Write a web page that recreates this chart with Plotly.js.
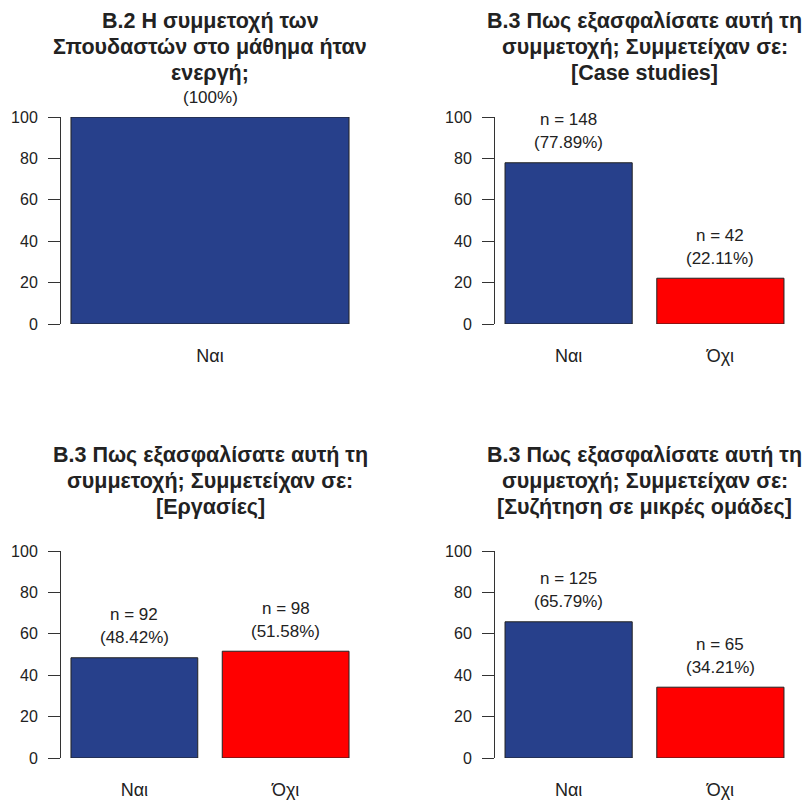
<!DOCTYPE html>
<html>
<head>
<meta charset="utf-8">
<script src="https://cdn.plot.ly/plotly-3.0.1.min.js"></script>
<style>html,body{margin:0;padding:0;background:#fff;}#chart{width:805px;height:803px;}</style>
</head>
<body>
<div id="chart"></div>
<script>
// ---- data ----
const title1 = ["Β.2 Η συμμετοχή των", "Σπουδαστών στο μάθημα ήταν", "ενεργή;"];
const title2 = ["Β.3 Πως εξασφαλίσατε αυτή τη", "συμμετοχή; Συμμετείχαν σε:", "[Case studies]"];
const title3 = ["Β.3 Πως εξασφαλίσατε αυτή τη", "συμμετοχή; Συμμετείχαν σε:", "[Εργασίες]"];
const title4 = ["Β.3 Πως εξασφαλίσατε αυτή τη", "συμμετοχή; Συμμετείχαν σε:", "[Συζήτηση σε μικρές ομάδες]"];
const cats1 = ["Ναι"];
const pct1 = [100];
const cats2 = ["Ναι", "Όχι"];
const n2 = [148, 42];
const pct2 = [77.89, 22.11];
const cats3 = ["Ναι", "Όχι"];
const n3 = [92, 98];
const pct3 = [48.42, 51.58];
const cats4 = ["Ναι", "Όχι"];
const n4 = [125, 65];
const pct4 = [65.79, 34.21];
const yTicks = [0, 20, 40, 60, 80, 100];

// ---- style ----
const FONT = "Liberation Sans, Arial, sans-serif";
const TXT = "#222";
const BLUE = "#27408B";
const RED = "#FF0000";
const W = 805, H = 803;

const panels = [
  {title: title1, cats: cats1, pct: pct1, n: null, xd: [61, 359], yd: [117, 324], range: [-0.5, 0.5], width: 0.933, tl: [21, 47, 73]},
  {title: title2, cats: cats2, pct: pct2, n: n2, xd: [495, 794], yd: [117, 324], range: [-0.485, 1.485], width: 0.838, tl: [21, 47, 73]},
  {title: title3, cats: cats3, pct: pct3, n: n3, xd: [61, 359], yd: [551, 758], range: [-0.485, 1.485], width: 0.838, tl: [455, 481, 507]},
  {title: title4, cats: cats4, pct: pct4, n: n4, xd: [495, 794], yd: [551, 758], range: [-0.485, 1.485], width: 0.838, tl: [455, 481, 507]}
];

const data = [];
const layout = {
  width: W, height: H,
  margin: {l: 0, r: 0, t: 0, b: 0},
  paper_bgcolor: "#fff", plot_bgcolor: "#fff",
  showlegend: false,
  font: {family: FONT, color: TXT, size: 16},
  annotations: []
};

panels.forEach((p, i) => {
  const k = i === 0 ? "" : String(i + 1);
  const xa = "x" + k, ya = "y" + k;
  data.push({
    type: "bar",
    x: p.cats,
    y: p.pct,
    xaxis: xa, yaxis: ya,
    width: p.width,
    marker: {color: p.cats.map((c, j) => j === 0 ? BLUE : RED), line: {color: "#222", width: 1}},
    hoverinfo: "none",
    cliponaxis: false
  });
  layout["xaxis" + k] = {
    domain: [p.xd[0] / W, p.xd[1] / W],
    anchor: ya,
    type: "category",
    range: p.range,
    showline: false, showgrid: false, zeroline: false,
    ticks: "outside", ticklen: 15, tickcolor: "rgba(0,0,0,0)",
    tickfont: {size: 18, color: TXT, family: FONT},
    fixedrange: true
  };
  layout["yaxis" + k] = {
    domain: [1 - p.yd[1] / H, 1 - p.yd[0] / H],
    anchor: xa,
    range: [0, 100],
    tickvals: yTicks,
    ticktext: yTicks.map(String),
    showline: true, linecolor: "#333", linewidth: 1,
    ticks: "outside", ticklen: 12, tickcolor: "#333", tickwidth: 1,
    ticklabelstandoff: 7,
    showgrid: false, zeroline: false,
    tickfont: {size: 16, color: TXT, family: FONT},
    fixedrange: true
  };
  // title lines
  p.title.forEach((line, li) => {
    layout.annotations.push({
      xref: "paper", yref: "paper",
      x: (p.xd[0] + p.xd[1]) / 2 / W, y: 1 - p.tl[li] / H,
      xanchor: "center", yanchor: "middle",
      text: "<b>" + line + "</b>",
      showarrow: false,
      font: {size: 21.5, color: TXT, family: FONT}
    });
  });
  // value labels
  p.cats.forEach((c, j) => {
    layout.annotations.push({
      xref: xa, yref: ya, x: c, y: p.pct[j],
      xanchor: "center", yanchor: "middle", yshift: 20,
      text: "(" + p.pct[j] + "%)",
      showarrow: false,
      font: {size: 17, color: TXT, family: FONT}
    });
    if (p.n) {
      layout.annotations.push({
        xref: xa, yref: ya, x: c, y: p.pct[j],
        xanchor: "center", yanchor: "middle", yshift: 43,
        text: "n = " + p.n[j],
        showarrow: false,
        font: {size: 17, color: TXT, family: FONT}
      });
    }
  });
});

Plotly.newPlot("chart", data, layout, {displayModeBar: false, staticPlot: true});
</script>
</body>
</html>
